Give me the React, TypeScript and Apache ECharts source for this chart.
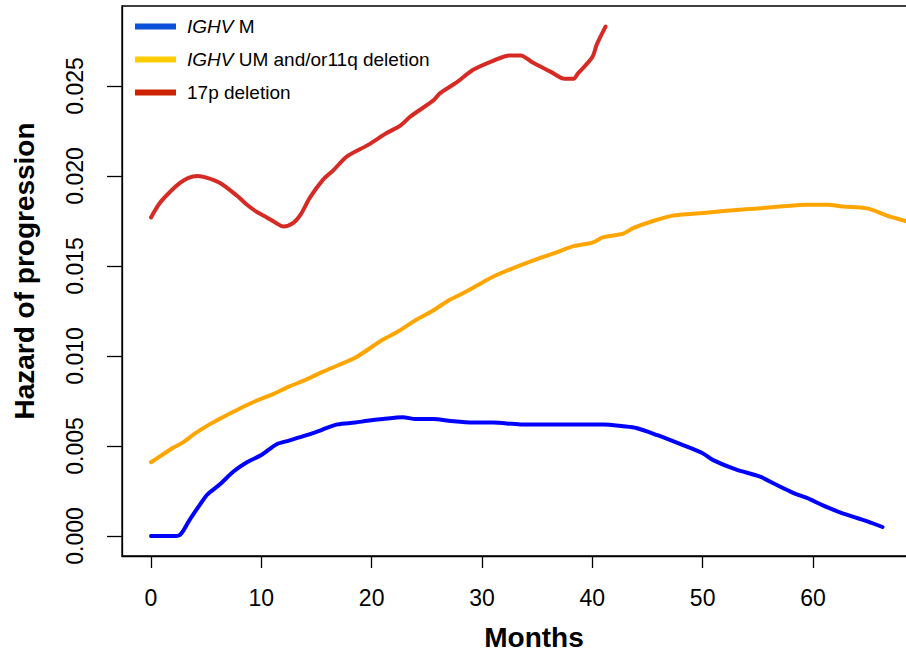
import React, { useEffect, useRef } from "react";
import * as echarts from "echarts";

// Smoothed hazard of progression over follow-up time, by risk group
const mutatedMonths = [0, 1, 2, 2.6, 3.5, 4.5, 5.1, 6.3, 7.5, 8.7, 10, 11.4, 12.5, 14.1, 15.5, 16.9, 18.5, 19.6, 21, 22.8, 24, 25.6, 27, 29.2, 31, 33.5, 36, 38, 41, 42.8, 44, 45.9, 48, 50, 51, 53, 55.2, 56.5, 58.2, 59.5, 60.9, 62.5, 64, 65, 66.3];
const mutatedHazard = [0, 0, 0, 0.00005, 0.0009, 0.0018, 0.0023, 0.0029, 0.0036, 0.0041, 0.0045, 0.0051, 0.0053, 0.0056, 0.0059, 0.0062, 0.0063, 0.0064, 0.0065, 0.0066, 0.0065, 0.0065, 0.0064, 0.0063, 0.0063, 0.0062, 0.0062, 0.0062, 0.0062, 0.0061, 0.006, 0.0056, 0.0051, 0.0046, 0.0042, 0.0037, 0.0033, 0.0029, 0.0024, 0.0021, 0.0017, 0.0013, 0.001, 0.0008, 0.0005];

const unmutatedMonths = [0, 1, 2, 2.9, 4, 5.3, 6.5, 8.1, 9.5, 11.1, 12.5, 14.1, 15.5, 17, 18.5, 20, 21, 22.5, 24, 25.5, 27, 28, 29.5, 31, 32.5, 34.6, 36.5, 38.3, 40, 41, 42.8, 43.7, 45.5, 47.3, 49.1, 51, 52.8, 55, 57, 59.5, 61.3, 62.7, 64.9, 66.7, 68.4, 70];
const unmutatedHazard = [0.0041, 0.0045, 0.0049, 0.0052, 0.0057, 0.0062, 0.0066, 0.0071, 0.0075, 0.0079, 0.0083, 0.0087, 0.0091, 0.0095, 0.0099, 0.0105, 0.0109, 0.0114, 0.012, 0.0125, 0.0131, 0.0134, 0.0139, 0.0144, 0.0148, 0.0153, 0.0157, 0.0161, 0.0163, 0.0166, 0.0168, 0.0171, 0.0175, 0.0178, 0.0179, 0.018, 0.0181, 0.0182, 0.0183, 0.0184, 0.0184, 0.0183, 0.0182, 0.0178, 0.0175, 0.0172];

const del17pMonths = [0, 0.8, 1.7, 2.6, 3.4, 4.2, 5.1, 6.3, 7.8, 8.7, 9.6, 10.5, 11.3, 12, 12.9, 13.6, 14.4, 15.6, 16.5, 17.8, 19.6, 21.4, 22.6, 23.5, 25.6, 26.2, 27.7, 29.2, 31, 32.5, 33.5, 34.6, 36.2, 37.5, 38.3, 38.7, 40, 40.4, 41.2];
const del17pHazard = [0.0177, 0.0185, 0.0191, 0.0196, 0.0199, 0.02, 0.0199, 0.0196, 0.0189, 0.0184, 0.018, 0.0177, 0.0174, 0.0172, 0.0174, 0.0179, 0.0188, 0.0198, 0.0203, 0.0211, 0.0217, 0.0224, 0.0228, 0.0233, 0.0242, 0.0246, 0.0252, 0.0259, 0.0264, 0.0267, 0.0267, 0.0263, 0.0258, 0.0254, 0.0254, 0.0257, 0.0266, 0.0273, 0.0283];

const seriesNames = ["IGHV M", "IGHV UM and/or11q deletion", "17p deletion"];
const lineColors = ["#0000ff", "#ffa500", "#d62a24"];
const legendColors = ["#0a50d8", "#ffcc00", "#cc2200"];

const monthTicks = [0, 10, 20, 30, 40, 50, 60];
const hazardTicks = [0, 0.005, 0.01, 0.015, 0.02, 0.025];

const FONT = "'Liberation Sans', Arial, Helvetica, sans-serif";

const pairs = (xs: number[], ys: number[]) => xs.map((x, i) => [x, ys[i]]);

export default function App() {
  const ref = useRef<HTMLDivElement>(null);

  useEffect(() => {
    if (!ref.current) return;
    const chart = echarts.init(ref.current, undefined, { renderer: "svg" });

    const curves = [
      pairs(mutatedMonths, mutatedHazard),
      pairs(unmutatedMonths, unmutatedHazard),
      pairs(del17pMonths, del17pHazard),
    ];

    chart.setOption({
      animation: false,
      backgroundColor: "#ffffff",
      grid: {
        left: 122,
        top: 6,
        width: 801.3,
        height: 550,
        outerBoundsMode: "none",
        containLabel: false,
        show: true,
        borderColor: "#000",
        borderWidth: 1.3,
        backgroundColor: "transparent",
      },
      legend: {
        orient: "vertical",
        left: 130,
        top: 12,
        itemWidth: 41,
        itemHeight: 6,
        itemGap: 14,
        icon: "rect",
        selectedMode: false,
        textStyle: {
          fontFamily: FONT,
          fontSize: 19,
          color: "#000",
          padding: [0, 0, 0, 6],
          rich: {
            i: { fontFamily: FONT, fontSize: 19, fontStyle: "italic", color: "#000" },
          },
        },
        formatter: (name: string) =>
          name.startsWith("IGHV ") ? "{i|IGHV} " + name.slice(5) : name,
        data: seriesNames.map((n, i) => ({ name: n, itemStyle: { color: legendColors[i] } })),
      },
      xAxis: {
        type: "value",
        min: -2.628,
        max: 70,
        splitLine: { show: false },
        axisLine: { show: true, onZero: false, lineStyle: { color: "#000", width: 1.3 } },
        axisTick: {
          show: true,
          length: 12,
          customValues: monthTicks,
          lineStyle: { color: "#000", width: 1.3 },
        },
        axisLabel: {
          customValues: monthTicks,
          margin: 30,
          fontFamily: FONT,
          fontSize: 23,
          color: "#000",
        },
      },
      yAxis: {
        type: "value",
        min: -0.001111,
        max: 0.029444,
        splitLine: { show: false },
        axisLine: { show: true, onZero: false, lineStyle: { color: "#000", width: 1.3 } },
        axisTick: {
          show: true,
          length: 15,
          customValues: hazardTicks,
          lineStyle: { color: "#000", width: 1.3 },
        },
        axisLabel: {
          customValues: hazardTicks,
          rotate: 90,
          margin: 36,
          fontFamily: FONT,
          fontSize: 23,
          color: "#000",
          formatter: (v: number) => v.toFixed(3),
        },
      },
      graphic: [
        {
          type: "text",
          x: 534,
          y: 637,
          style: {
            text: "Months",
            font: `bold 28px ${FONT}`,
            fill: "#000",
            textAlign: "center",
            textVerticalAlign: "middle",
          },
        },
        {
          type: "text",
          x: 24,
          y: 271,
          rotation: Math.PI / 2,
          style: {
            text: "Hazard of progression",
            font: `bold 28px ${FONT}`,
            fill: "#000",
            textAlign: "center",
            textVerticalAlign: "middle",
          },
        },
      ],
      series: curves.map((data, i) => ({
        name: seriesNames[i],
        type: "line",
        data,
        showSymbol: false,
        smooth: 0.3,
        clip: true,
        lineStyle: { color: lineColors[i], width: 4, cap: "round", join: "round" },
        itemStyle: { color: lineColors[i] },
      })),
    });

    return () => chart.dispose();
  }, []);

  return (
    <div
      ref={ref}
      style={{ position: "absolute", left: 0, top: 0, width: 906, height: 655, background: "#fff" }}
    />
  );
}
